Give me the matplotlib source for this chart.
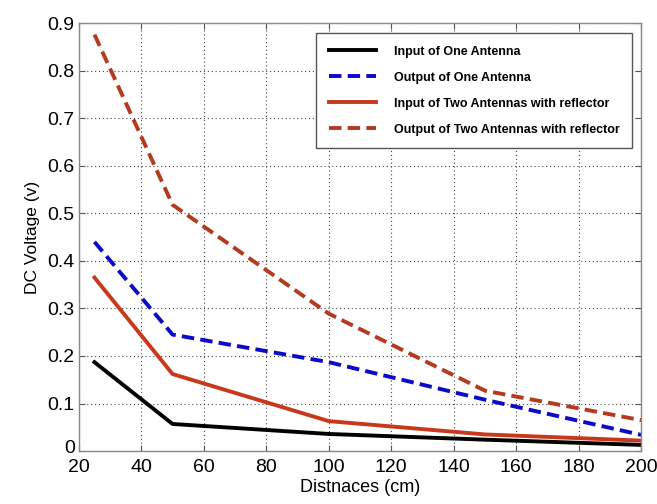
import numpy as np
import matplotlib
matplotlib.use("Agg")
import matplotlib.pyplot as plt
import matplotlib.transforms as mtrans

# distances (cm)
dist = [25, 50, 100, 150, 200]

in_one = [0.187, 0.057, 0.036, 0.024, 0.013]
out_one = [0.440, 0.245, 0.187, 0.108, 0.034]
in_two = [0.365, 0.162, 0.063, 0.035, 0.022]
out_two = [0.876, 0.518, 0.289, 0.127, 0.065]

labels = ["Input of One Antenna",
          "Output of One Antenna",
          "Input of Two Antennas with reflector",
          "Output of Two Antennas with reflector"]

BLACK = "#000000"
BLUE = "#0a0ac8"
RED = "#c8391c"
RED_DARK = "#b5391e"

plt.rcParams["font.family"] = ["Liberation Sans", "DejaVu Sans"]

fig = plt.figure(figsize=(6.57, 5.04), dpi=100)
ax = fig.add_axes([0.120, 0.105, 0.856, 0.849])

ax.plot(dist, in_one, color=BLACK, lw=2.8, label=labels[0])
ax.plot(dist, out_one, color=BLUE, lw=2.8, ls=(0, (3.2, 1.6)), label=labels[1])
ax.plot(dist, in_two, color=RED, lw=2.8, label=labels[2])
ax.plot(dist, out_two, color=RED_DARK, lw=2.8, ls=(0, (3.2, 1.6)), label=labels[3])

ax.set_xlim(20, 200)
ax.set_ylim(0, 0.9)
ax.set_xticks(np.arange(20, 201, 20))
ax.set_yticks(np.arange(0, 0.91, 0.1))
ax.set_yticklabels(["0", "0.1", "0.2", "0.3", "0.4", "0.5", "0.6", "0.7", "0.8", "0.9"])
ax.tick_params(labelsize=14, direction="in", length=4, color="#555555", top=True, right=True)
ax.tick_params(axis="y", pad=3)
ax.tick_params(axis="x", pad=6)
ax.grid(True, ls=(0, (1, 2.5)), color="#444444", lw=0.8)
for s in ax.spines.values():
    s.set_color("#888888")
    s.set_linewidth(1.0)

# lift the "0" a little so it sits above the "20", as in the original
zero_lbl = ax.get_yticklabels()[0]
zero_lbl.set_transform(zero_lbl.get_transform() +
                       mtrans.ScaledTranslation(0, 3 / 72, fig.dpi_scale_trans))

ax.set_xlabel("Distnaces (cm)", fontsize=13, labelpad=2)
ax.set_ylabel("DC Voltage (v)", fontsize=12.5, labelpad=5)

leg = ax.legend(loc="upper right", bbox_to_anchor=(0.995, 0.991),
                prop={"weight": "bold", "size": 9}, handlelength=3.8,
                labelspacing=1.12, borderpad=1.0, handletextpad=1.4,
                fancybox=False, framealpha=1, edgecolor="#555555")
leg.get_frame().set_linewidth(1.0)

fig.savefig("out.png", dpi=100)
